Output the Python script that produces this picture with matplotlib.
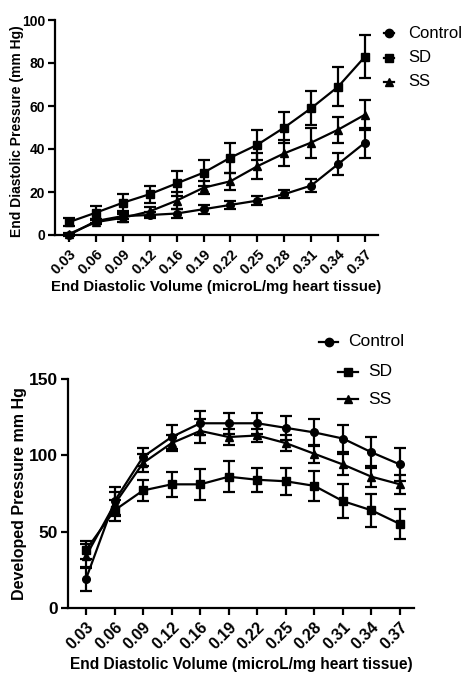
import numpy as np
import matplotlib
matplotlib.use("Agg")
import matplotlib.pyplot as plt
from matplotlib.lines import Line2D

plt.rcParams['font.family'] = ['Liberation Sans', 'DejaVu Sans']

volumes = ['0.03', '0.06', '0.09', '0.12', '0.16', '0.19',
           '0.22', '0.25', '0.28', '0.31', '0.34', '0.37']
series = ['Control', 'SD', 'SS']
markers = {'Control': 'o', 'SD': 's', 'SS': '^'}

# end diastolic pressure (mm Hg), mean and error
edp_mean = {
    'Control': [0, 6.5, 8.8, 9.3, 10, 12, 14, 16, 19, 23, 33, 43],
    'SD': [6, 10.4, 15, 19, 24, 29, 36, 42, 50, 59, 69, 83],
    'SS': [0.5, 6, 8, 11, 16, 22, 25, 32, 38, 43, 49, 56],
}
edp_err = {
    'Control': [0.5, 1, 1.5, 1.5, 2, 2, 2, 2, 2, 3, 5, 7],
    'SD': [2, 3, 4, 4, 6, 6, 7, 7, 7, 8, 9, 10],
    'SS': [0.5, 1, 2, 2, 4, 3, 4, 6, 6, 7, 6, 7],
}

# developed pressure (mm Hg), mean and error
dp_mean = {
    'Control': [19, 70, 99, 112, 121, 121, 121, 118, 115, 111, 102, 94],
    'SD': [38, 64, 77, 81, 81, 86, 84, 83, 80, 70, 64, 55],
    'SS': [34, 68, 95, 108, 116, 112, 113, 108, 101, 94, 86, 81],
}
dp_err = {
    'Control': [8, 9, 6, 8, 8, 7, 7, 8, 9, 9, 10, 11],
    'SD': [6, 7, 7, 8, 10, 10, 8, 9, 10, 11, 11, 10],
    'SS': [8, 8, 6, 5, 8, 5, 4, 5, 6, 7, 7, 6],
}

W, H = 471, 682
fig = plt.figure(figsize=(W / 100, H / 100), dpi=100)


def px_axes(x0, y0, x1, y1):
    # pixel box -> figure fraction
    return fig.add_axes([x0 / W, 1 - y1 / H, (x1 - x0) / W, (y1 - y0) / H])


def style(ax, tick_fs, ytick_fs):
    for s in ['top', 'right']:
        ax.spines[s].set_visible(False)
    for s in ['left', 'bottom']:
        ax.spines[s].set_linewidth(1.6)
    ax.tick_params(width=1.6, length=5, direction='out')
    ax.tick_params(axis='y', pad=2)
    ax.set_xticks(range(len(volumes)))
    ax.set_xticklabels(volumes, rotation=45, ha='right', rotation_mode='anchor',
                       fontweight='bold', fontsize=tick_fs)
    for lab in ax.get_yticklabels():
        lab.set_fontweight('bold')
        lab.set_fontsize(ytick_fs)


def draw(ax, means, errs):
    x = np.arange(len(volumes))
    for s in series:
        ax.errorbar(x, means[s], yerr=errs[s], color='black', lw=1.6,
                    marker=markers[s], ms=5.5, capsize=4, capthick=1.6,
                    elinewidth=1.6, clip_on=False, zorder=3)


def legend(items):
    for name, x0, x1, xt, y, fs in items:
        fig.add_artist(Line2D([x0 / W, x1 / W], [1 - y / H, 1 - y / H],
                              color='black', lw=1.6))
        fig.add_artist(Line2D([(x0 + x1) / 2 / W], [1 - y / H], color='black',
                              marker=markers[name], ms=6, lw=0))
        fig.text(xt / W, 1 - y / H, name, fontsize=fs, va='center', ha='left')


# top panel
ax1 = px_axes(55, 20, 378, 235)
draw(ax1, edp_mean, edp_err)
ax1.set_xlim(-0.52, 11.48)
ax1.set_ylim(0, 100)
ax1.set_yticks([0, 20, 40, 60, 80, 100])
style(ax1, 10.5, 10)
ax1.set_ylabel('End Diastolic Pressure (mm Hg)', fontweight='bold', fontsize=10)
ax1.yaxis.set_label_coords(-0.097, 0.485)
ax1.set_xlabel('End Diastolic Volume (microL/mg heart tissue)', fontweight='bold',
               fontsize=10.8, labelpad=2)

legend([('Control', 384, 394, 408, 33, 12),
        ('SD', 384, 394, 408, 58, 12),
        ('SS', 384, 394, 408, 82, 12)])

# bottom panel
ax2 = px_axes(68, 379, 414, 608)
draw(ax2, dp_mean, dp_err)
ax2.set_xlim(-0.63, 11.49)
ax2.set_ylim(0, 150)
ax2.set_yticks([0, 50, 100, 150])
style(ax2, 11.5, 12.5)
ax2.set_ylabel('Developed Pressure mm Hg', fontweight='bold', fontsize=11.5)
ax2.yaxis.set_label_coords(-0.118, 0.5)
ax2.set_xlabel('End Diastolic Volume (microL/mg heart tissue)', fontweight='bold',
               fontsize=11.2, labelpad=3)

legend([('Control', 319, 338, 348, 342, 12.5),
        ('SD', 338, 358, 368, 372, 12.5),
        ('SS', 338, 358, 368, 399, 12.5)])

fig.savefig('out.png', dpi=100)
